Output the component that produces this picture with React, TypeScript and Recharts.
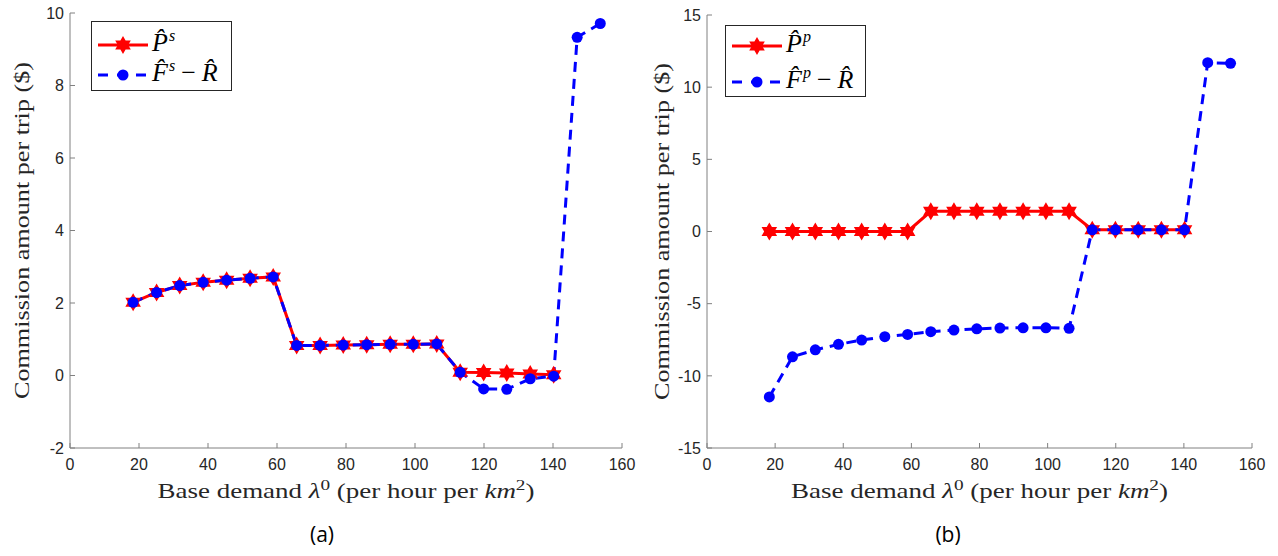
import React from 'react';
import { LineChart, Line, XAxis, YAxis, Legend } from 'recharts';

const lambda0 = [18.3, 25.1, 31.8, 38.6, 45.4, 52.2, 58.9, 65.7, 72.5, 79.2, 86.0, 92.8, 99.5, 106.3, 113.1, 119.9, 126.6, 133.4, 140.2, 147.0, 153.7];
const leftP = [2.02, 2.29, 2.48, 2.57, 2.63, 2.68, 2.72, 0.83, 0.83, 0.84, 0.85, 0.86, 0.86, 0.87, 0.09, 0.08, 0.07, 0.04, 0.02, null, null];
const leftFR = [2.02, 2.29, 2.48, 2.57, 2.63, 2.68, 2.72, 0.83, 0.83, 0.84, 0.85, 0.86, 0.86, 0.87, 0.09, -0.37, -0.38, -0.09, -0.02, 9.33, 9.71];
const rightP = [0, 0, 0, 0, 0, 0, 0, 1.4, 1.4, 1.4, 1.4, 1.4, 1.4, 1.4, 0.12, 0.12, 0.12, 0.12, 0.12, null, null];
const rightFR = [-11.46, -8.68, -8.2, -7.82, -7.52, -7.29, -7.13, -6.94, -6.83, -6.74, -6.69, -6.67, -6.67, -6.71, 0.12, 0.12, 0.12, 0.12, 0.12, 11.7, 11.65];
const xTicks = [0, 20, 40, 60, 80, 100, 120, 140, 160];
const leftYTicks = [-2, 0, 2, 4, 6, 8, 10];
const rightYTicks = [-15, -10, -5, 0, 5, 10, 15];

const leftData = lambda0.map((x, i) => ({ x, p: leftP[i], f: leftFR[i] }));
const rightData = lambda0.map((x, i) => ({ x, p: rightP[i], f: rightFR[i] }));

const RED = '#ff0000';
const BLUE = '#0000ff';
const AXIS = '#808080';
const TEXT = '#262626';
const SERIF = "'Liberation Serif', serif";
const SANS = "'Liberation Sans', Arial, sans-serif";

function starPoints(cx: number, cy: number, R: number) {
  const r = R / Math.sqrt(3);
  const pts: string[] = [];
  for (let k = 0; k < 12; k++) {
    const a = -Math.PI / 2 + (k * Math.PI) / 6;
    const rad = k % 2 === 0 ? R : r;
    pts.push(`${cx + rad * Math.cos(a)},${cy + rad * Math.sin(a)}`);
  }
  return pts.join(' ');
}

const StarDot = (props: any) => {
  const { cx, cy, index } = props;
  if (cx == null || cy == null || props.value == null) return <g key={`s${index}`} />;
  return <polygon key={`s${index}`} points={starPoints(cx, cy, 9)} fill={RED} stroke="none" />;
};

const CircleDot = (props: any) => {
  const { cx, cy, index } = props;
  if (cx == null || cy == null || props.value == null) return <g key={`c${index}`} />;
  return <circle key={`c${index}`} cx={cx} cy={cy} r={5.5} fill={BLUE} stroke="none" />;
};

const XLabel = (props: any) => {
  const vb = props.viewBox || {};
  const cx = vb.x + vb.width / 2;
  const y = vb.y + 50;
  return (
    <text x={cx} y={y} textAnchor="middle" style={{ fontFamily: SERIF }} fontSize={21} fill={TEXT}
      textLength={377} lengthAdjust="spacingAndGlyphs">
      Base demand <tspan fontStyle="italic">λ</tspan>
      <tspan dy={-8} fontSize={15}>0</tspan>
      <tspan dy={8}> (per hour per </tspan>
      <tspan fontStyle="italic">km</tspan>
      <tspan dy={-8} fontSize={15}>2</tspan>
      <tspan dy={8}>)</tspan>
    </text>
  );
};

const makeYLabel = (xc: number) => (props: any) => {
  const vb = props.viewBox || {};
  const cy = vb.y + vb.height / 2;
  return (
    <text
      x={xc}
      y={cy}
      transform={`rotate(-90, ${xc}, ${cy})`}
      textAnchor="middle"
      dominantBaseline="central"
      style={{ fontFamily: SERIF }}
      fontSize={21}
      fill={TEXT}
      textLength={337}
      lengthAdjust="spacingAndGlyphs"
    >
      Commission amount per trip ($)
    </text>
  );
};

const makeLegend = (sup: string, rowRed: number, rowBlue: number, w: number, h: number) => () => {
  const txt: React.CSSProperties = { position: 'absolute', left: 60, fontFamily: SERIF, fontSize: 26, color: '#000', whiteSpace: 'nowrap', lineHeight: '24px', height: 24 };
  return (
    <div style={{ position: 'relative', width: w, height: h, boxSizing: 'border-box', border: '1px solid #262626', background: '#fff' }}>
      <svg width={w} height={h} style={{ position: 'absolute', left: 0, top: 0 }}>
        <line x1={6} x2={56} y1={rowRed} y2={rowRed} stroke={RED} strokeWidth={3} />
        <polygon points={starPoints(31, rowRed, 9)} fill={RED} />
        <line x1={6} x2={56} y1={rowBlue} y2={rowBlue} stroke={BLUE} strokeWidth={3} strokeDasharray="10 9" />
        <circle cx={31} cy={rowBlue} r={5.5} fill={BLUE} />
      </svg>
      <div style={{ ...txt, top: rowRed - 14 }}>
        <i>P̂</i><sup style={{ fontSize: 16, fontStyle: 'italic', marginLeft: 1, lineHeight: '0' }}>{sup}</sup>
      </div>
      <div style={{ ...txt, top: rowBlue - 14 }}>
        <i>F̂</i><sup style={{ fontSize: 16, fontStyle: 'italic', marginLeft: 1, lineHeight: '0' }}>{sup}</sup>
        <span style={{ margin: '0 6px' }}>−</span><i>R̂</i>
      </div>
    </div>
  );
};

const tickStyle = { fill: TEXT, fontSize: 16, fontFamily: SANS };

export default function App() {
  return (
    <div style={{ position: 'absolute', left: 0, top: 0, width: 1278, height: 556, background: '#fff' }}>
      <div style={{ position: 'absolute', left: 0, top: 0 }}>
        <LineChart width={640} height={556} data={leftData} margin={{ top: 13, right: 18, left: 0, bottom: 78 }}>
          <XAxis
            dataKey="x"
            type="number"
            domain={[0, 160]}
            ticks={xTicks}
            interval={0}
            height={30}
            tickSize={-5}
            tickMargin={16}
            axisLine={{ stroke: AXIS }}
            tickLine={{ stroke: AXIS }}
            tick={tickStyle}
            label={{ content: XLabel }}
          />
          <YAxis
            type="number"
            domain={[-2, 10]}
            ticks={leftYTicks}
            interval={0}
            width={70}
            tickSize={-5}
            tickMargin={11}
            axisLine={{ stroke: AXIS }}
            tickLine={{ stroke: AXIS }}
            tick={tickStyle}
            label={{ content: makeYLabel(22) }}
          />
          <Legend layout="vertical" align="center" verticalAlign="middle"
            wrapperStyle={{ position: 'absolute', left: 91, top: 21, width: 141, height: 70 }}
            content={makeLegend('s', 23, 53, 141, 70)} />
          <Line dataKey="p" stroke={RED} strokeWidth={3} dot={StarDot} activeDot={false} isAnimationActive={false} />
          <Line dataKey="f" stroke={BLUE} strokeWidth={3} strokeDasharray="10 7" dot={CircleDot} activeDot={false} isAnimationActive={false} />
        </LineChart>
      </div>
      <div style={{ position: 'absolute', left: 640, top: 0 }}>
        <LineChart width={638} height={556} data={rightData} margin={{ top: 15, right: 26, left: 0, bottom: 78 }}>
          <XAxis
            dataKey="x"
            type="number"
            domain={[0, 160]}
            ticks={xTicks}
            interval={0}
            height={30}
            tickSize={-5}
            tickMargin={16}
            axisLine={{ stroke: AXIS }}
            tickLine={{ stroke: AXIS }}
            tick={tickStyle}
            label={{ content: XLabel }}
          />
          <YAxis
            type="number"
            domain={[-15, 15]}
            ticks={rightYTicks}
            interval={0}
            width={67}
            tickSize={-5}
            tickMargin={11}
            axisLine={{ stroke: AXIS }}
            tickLine={{ stroke: AXIS }}
            tick={tickStyle}
            label={{ content: makeYLabel(22) }}
          />
          <Legend layout="vertical" align="center" verticalAlign="middle"
            wrapperStyle={{ position: 'absolute', left: 85, top: 25, width: 141, height: 72 }}
            content={makeLegend('p', 20, 56, 141, 72)} />
          <Line dataKey="p" stroke={RED} strokeWidth={3} dot={StarDot} activeDot={false} isAnimationActive={false} />
          <Line dataKey="f" stroke={BLUE} strokeWidth={3} strokeDasharray="10 7" dot={CircleDot} activeDot={false} isAnimationActive={false} />
        </LineChart>
      </div>
      <div style={{ position: 'absolute', left: 0, top: 520, width: 644, textAlign: 'center', fontFamily: "'Open Sans', sans-serif", fontSize: 21, color: '#000' }}>(a)</div>
      <div style={{ position: 'absolute', left: 626, top: 520, width: 644, textAlign: 'center', fontFamily: "'Open Sans', sans-serif", fontSize: 21, color: '#000' }}>(b)</div>
    </div>
  );
}
